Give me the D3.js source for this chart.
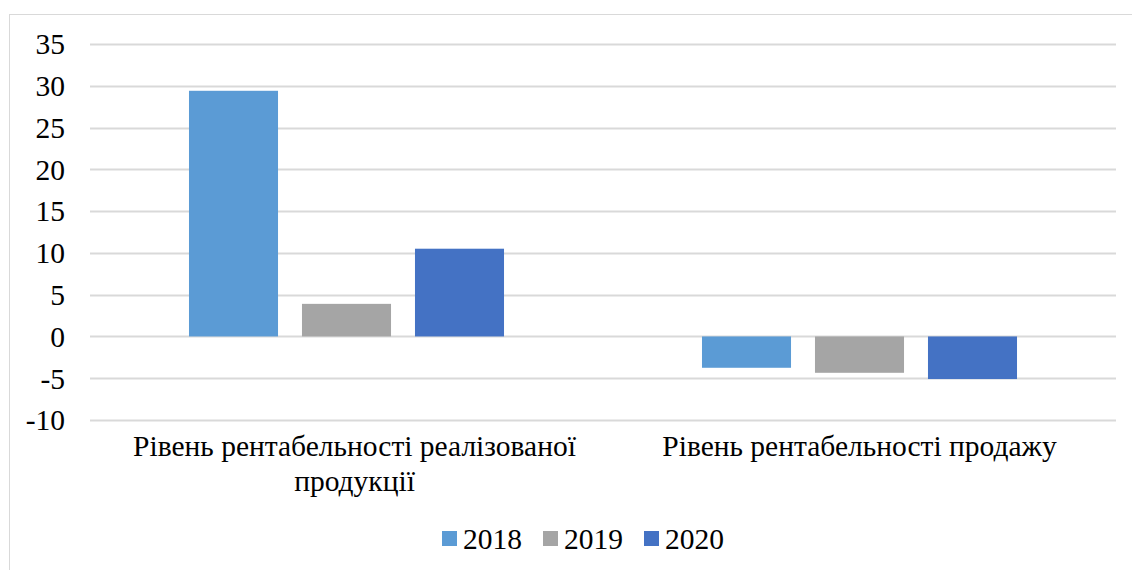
<!DOCTYPE html>
<html>
<head>
<meta charset="utf-8">
<script src="https://cdn.jsdelivr.net/npm/d3@7"></script>
<style>
  @font-face { font-family: "ChartSerif"; src: local("Liberation Serif"), local("LiberationSerif"), local("Liberation Serif Regular"), local("LiberationSerif-Regular"); }
</style>
</head>
<body style="margin:0; background:#fff">
<script>
// data
var categories = [
    ["Рівень рентабельності реалізованої", "продукції"],
    ["Рівень рентабельності продажу"]
];
var seriesNames = ["2018", "2019", "2020"];
var values2018 = [29.4, -3.75];
var values2019 = [3.9, -4.35];
var values2020 = [10.5, -5.1];
var yTicks = [-10, -5, 0, 5, 10, 15, 20, 25, 30, 35];
var colors = ["#5B9BD5", "#A5A5A5", "#4472C4"];

var allValues = [values2018, values2019, values2020];
var width = 1132, height = 570;
var plotLeft = 90, plotRight = 1116, plotTop = 44, plotBottom = 420;
var fontFamily = "'Liberation Serif', ChartSerif, Tinos, 'Times New Roman'";
var fontSize = "29.5px";

var svg = d3.select("body")
    .append("svg")
    .attr("width", width)
    .attr("height", height);

// chart frame (runs off right and bottom edge as in the picture)
svg.append("rect")
    .attr("x", 9.5)
    .attr("y", 14.5)
    .attr("width", 1200)
    .attr("height", 700)
    .attr("fill", "none")
    .attr("stroke", "#d9d9d9")
    .attr("stroke-width", 1);

var y = d3.scaleLinear()
    .domain([-10, 35])
    .range([plotBottom, plotTop]);

var x0 = d3.scaleBand()
    .domain(d3.range(categories.length))
    .range([plotLeft, plotRight])
    .padding(0);

var x1 = d3.scaleBand()
    .domain(seriesNames)
    .range([0, x0.bandwidth()])
    .paddingInner(0.212)
    .paddingOuter(0.876);

// gridlines
svg.append("g")
    .selectAll("line")
    .data(yTicks)
    .join("line")
    .attr("x1", plotLeft)
    .attr("x2", plotRight)
    .attr("y1", d => Math.round(y(d)) + 0.5)
    .attr("y2", d => Math.round(y(d)) + 0.5)
    .attr("stroke", "#d9d9d9")
    .attr("stroke-width", 2);

// y tick labels
svg.append("g")
    .selectAll("text")
    .data(yTicks)
    .join("text")
    .attr("x", 65)
    .attr("y", d => y(d))
    .attr("dy", "0.35em")
    .attr("text-anchor", "end")
    .style("font-family", fontFamily)
    .style("font-size", fontSize)
    .text(d => d);

// bars
var groups = svg.append("g")
    .selectAll("g")
    .data(seriesNames)
    .join("g")
    .attr("fill", (d, i) => colors[i]);

groups.selectAll("rect")
    .data((s, si) => allValues[si].map((v, ci) => ({ series: s, cat: ci, value: v })))
    .join("rect")
    .attr("x", d => x0(d.cat) + x1(d.series))
    .attr("width", x1.bandwidth())
    .attr("y", d => y(Math.max(0, d.value)))
    .attr("height", d => Math.abs(y(d.value) - y(0)));

// category labels, one tspan per line
var catLabels = svg.append("g")
    .selectAll("text")
    .data(categories)
    .join("text")
    .attr("x", (d, i) => x0(i) + x0.bandwidth() / 2 + (i === 0 ? 8 : 0))
    .attr("y", 456)
    .attr("text-anchor", "middle")
    .style("font-family", fontFamily)
    .style("font-size", fontSize);

catLabels.selectAll("tspan")
    .data(d => d)
    .join("tspan")
    .attr("x", function () { return d3.select(this.parentNode).attr("x"); })
    .attr("dy", (d, i) => i === 0 ? 0 : 35)
    .text(d => d);

// legend
var legendX = [442, 543, 644];
var legend = svg.append("g")
    .selectAll("g")
    .data(seriesNames)
    .join("g")
    .attr("transform", (d, i) => "translate(" + legendX[i] + ",531)");

legend.append("rect")
    .attr("width", 15)
    .attr("height", 15)
    .attr("fill", (d, i) => colors[i]);

legend.append("text")
    .attr("x", 21)
    .attr("y", 7.5)
    .attr("dy", "0.35em")
    .style("font-family", fontFamily)
    .style("font-size", fontSize)
    .text(d => d);
</script>
</body>
</html>
